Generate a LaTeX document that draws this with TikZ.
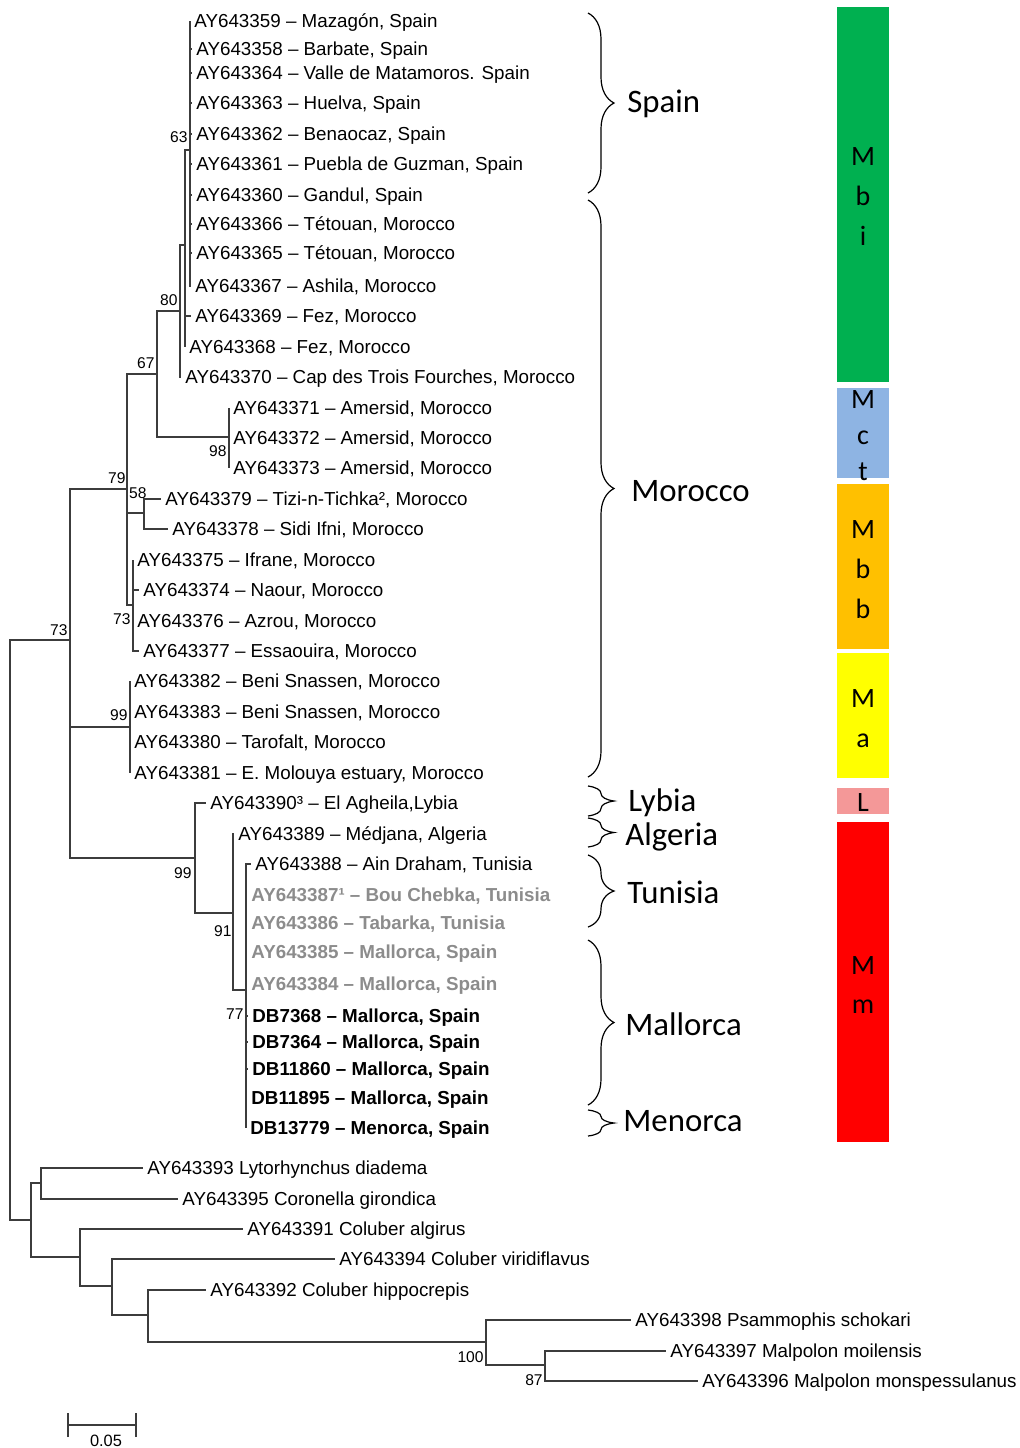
\documentclass[tikz,border=0pt]{standalone}
\usepackage{fontspec}
\setmainfont{Liberation Sans}
\newfontfamily\calibfont{Carlito}
\usetikzlibrary{decorations.pathreplacing}
\definecolor{mbigreen}{RGB}{0,176,80}
\definecolor{mctblue}{RGB}{142,180,227}
\definecolor{mbborange}{RGB}{255,192,0}
\definecolor{mayellow}{RGB}{255,255,0}
\definecolor{lpink}{RGB}{244,152,152}
\definecolor{mmred}{RGB}{255,0,0}
\definecolor{taxgray}{RGB}{140,140,140}
\definecolor{branchcol}{RGB}{60,60,60}
\tikzset{
  branch/.style={draw=branchcol, line width=0.75pt},
  leaf/.style={anchor=west, inner xsep=2pt, inner ysep=0pt, text height=6.7pt, text depth=0pt,
    font=\fontsize{9.4}{11}\selectfont},
  leafgray/.style={leaf, text=taxgray, font=\fontsize{9.4}{11}\selectfont\bfseries},
  leafbold/.style={leaf, font=\fontsize{9.4}{11}\selectfont\bfseries},
  boot/.style={anchor=east, inner sep=0pt, text height=5.6pt, text depth=0pt,
    font=\fontsize{7.8}{9}\selectfont},
  cladebrace/.style={draw=black, line width=0.6pt, decorate, decoration={brace, amplitude=13pt}},
  cladename/.style={anchor=west, inner sep=0pt, text height=10.5pt, text depth=0pt,
    font=\calibfont\fontsize{16.4}{19}\selectfont},
  barletter/.style={anchor=base, inner sep=0pt, font=\calibfont\fontsize{14}{16}\selectfont},
}
\begin{document}
\begin{tikzpicture}[x=0.5pt, y=-0.5pt]
\useasboundingbox (0,0) rectangle (1020,1448);

% ---------- internal nodes of the tree ----------
\coordinate (root) at (10,930);
\coordinate (n73) at (70,640);
\coordinate (nx) at (70,792);
\coordinate (n79) at (127,489);
\coordinate (n67) at (157,374);
\coordinate (n80) at (180,311);
\coordinate (nb) at (185,245);
\coordinate (n63) at (190,150);
\coordinate (n98) at (229,437);
\coordinate (n58) at (144,513);
\coordinate (nmbb) at (133,605);
\coordinate (nma) at (130,727);
\coordinate (ne) at (195,858);
\coordinate (n91) at (233,913);
\coordinate (n77) at (246,990);
\coordinate (nout) at (31,1220);
\coordinate (nly) at (41,1183);
\coordinate (nc1) at (80,1257);
\coordinate (nc2) at (112,1286);
\coordinate (nc3) at (148,1315);
\coordinate (n100) at (486,1342);
\coordinate (n87) at (545,1365);

% ---------- terminal taxa ----------
\node[leaf] (l1) at (190,21) {AY643359 – Mazagón, Spain};
\node[leaf] (l2) at (192,49) {AY643358 – Barbate, Spain};
\node[leaf] (l3) at (192,73) {AY643364 – Valle de Matamoros. Spain};
\node[leaf] (l4) at (192,103) {AY643363 – Huelva, Spain};
\node[leaf] (l5) at (192,134) {AY643362 – Benaocaz, Spain};
\node[leaf] (l6) at (192,164) {AY643361 – Puebla de Guzman, Spain};
\node[leaf] (l7) at (192,195) {AY643360 – Gandul, Spain};
\node[leaf] (l8) at (192,224) {AY643366 – Tétouan, Morocco};
\node[leaf] (l9) at (192,253) {AY643365 – Tétouan, Morocco};
\node[leaf] (l10) at (191,286) {AY643367 – Ashila, Morocco};
\node[leaf] (l11) at (191,316) {AY643369 – Fez, Morocco};
\node[leaf] (l12) at (185,347) {AY643368 – Fez, Morocco};
\node[leaf] (l13) at (181,377) {AY643370 – Cap des Trois Fourches, Morocco};
\node[leaf] (l14) at (229,408) {AY643371 – Amersid, Morocco};
\node[leaf] (l15) at (229,438) {AY643372 – Amersid, Morocco};
\node[leaf] (l16) at (229,468) {AY643373 – Amersid, Morocco};
\node[leaf] (l17) at (161,499) {AY643379 – Tizi-n-Tichka², Morocco};
\node[leaf] (l18) at (168,529) {AY643378 – Sidi Ifni, Morocco};
\node[leaf] (l19) at (133,560) {AY643375 – Ifrane, Morocco};
\node[leaf] (l20) at (139,590) {AY643374 – Naour, Morocco};
\node[leaf] (l21) at (133,621) {AY643376 – Azrou, Morocco};
\node[leaf] (l22) at (139,651) {AY643377 – Essaouira, Morocco};
\node[leaf] (l23) at (130,681) {AY643382 – Beni Snassen, Morocco};
\node[leaf] (l24) at (130,712) {AY643383 – Beni Snassen, Morocco};
\node[leaf] (l25) at (130,742) {AY643380 – Tarofalt, Morocco};
\node[leaf] (l26) at (130,773) {AY643381 – E. Molouya estuary, Morocco};
\node[leaf] (l27) at (206,803) {AY643390³ – El Agheila,Lybia};
\node[leaf] (l28) at (234,834) {AY643389 – Médjana, Algeria};
\node[leaf] (l29) at (251,864) {AY643388 – Ain Draham, Tunisia};
\node[leafgray] (l30) at (247,895) {AY643387¹ – Bou Chebka, Tunisia};
\node[leafgray] (l31) at (247,923) {AY643386 – Tabarka, Tunisia};
\node[leafgray] (l32) at (247,952) {AY643385 – Mallorca, Spain};
\node[leafgray] (l33) at (247,984) {AY643384 – Mallorca, Spain};
\node[leafbold] (l34) at (248,1016) {DB7368 – Mallorca, Spain};
\node[leafbold] (l35) at (248,1042) {DB7364 – Mallorca, Spain};
\node[leafbold] (l36) at (248,1069) {DB11860 – Mallorca, Spain};
\node[leafbold] (l37) at (247,1098) {DB11895 – Mallorca, Spain};
\node[leafbold] (l38) at (246,1128) {DB13779 – Menorca, Spain};
\node[leaf] (l39) at (143,1168) {AY643393 Lytorhynchus diadema};
\node[leaf] (l40) at (178,1199) {AY643395 Coronella girondica};
\node[leaf] (l41) at (243,1229) {AY643391 Coluber algirus};
\node[leaf] (l42) at (335,1259) {AY643394 Coluber viridiflavus};
\node[leaf] (l43) at (206,1290) {AY643392 Coluber hippocrepis};
\node[leaf] (l44) at (631,1320) {AY643398 Psammophis schokari};
\node[leaf] (l45) at (666,1351) {AY643397 Malpolon moilensis};
\node[leaf] (l46) at (698,1381) {AY643396 Malpolon monspessulanus};

% ---------- branches ----------
\draw[branch] (root) |- (n73) (root) |- (nout);
\draw[branch] (n73) |- (n79) (n73) -- (nx);
\draw[branch] (nx) |- (nma) (nx) |- (ne);
\draw[branch] (n79) |- (n67) (n79) |- (n58) (n79) |- (nmbb);
\draw[branch] (n67) |- (n80) (n67) |- (n98);
\draw[branch] (n80) |- (nb) (n80) |- (l13.west);
\draw[branch] (nb) |- (n63) (nb) |- (l11.west) (nb) |- (l12.west);
\foreach \k in {1,...,10} \draw[branch] (n63) |- (l\k.west);
\foreach \k in {14,15,16} \draw[branch] (n98) |- (l\k.west);
\foreach \k in {17,18} \draw[branch] (n58) |- (l\k.west);
\foreach \k in {19,...,22} \draw[branch] (nmbb) |- (l\k.west);
\foreach \k in {23,...,26} \draw[branch] (nma) |- (l\k.west);
\draw[branch] (ne) |- (l27.west) (ne) |- (n91);
\draw[branch] (n91) |- (l28.west) (n91) |- (n77);
\foreach \k in {29,...,38} \draw[branch] (n77) |- (l\k.west);
\draw[branch] (nout) |- (nly) (nout) |- (nc1);
\draw[branch] (nly) |- (l39.west) (nly) |- (l40.west);
\draw[branch] (nc1) |- (l41.west) (nc1) |- (nc2);
\draw[branch] (nc2) |- (l42.west) (nc2) |- (nc3);
\draw[branch] (nc3) |- (l43.west) (nc3) |- (n100);
\draw[branch] (n100) |- (l44.west) (n100) |- (n87);
\draw[branch] (n87) |- (l45.west) (n87) |- (l46.west);

% ---------- bootstrap values ----------
\node[boot] (b63) at (188,137) {63};
\node[boot] (b80) at (178,300) {80};
\node[boot] (b67) at (155,363) {67};
\node[boot] (b98) at (227,451) {98};
\node[boot] (b79) at (126,478) {79};
\node[boot] (b58) at (147,493) {58};
\node[boot] (b73a) at (131,619) {73};
\node[boot] (b73b) at (68,630) {73};
\node[boot] (b99a) at (128,715) {99};
\node[boot] (b99b) at (192,873) {99};
\node[boot] (b91) at (232,931) {91};
\node[boot] (b77) at (244,1014) {77};
\node[boot] (b100) at (484,1357) {100};
\node[boot] (b87) at (543,1380) {87};

% ---------- scale bar ----------
\coordinate (sbl) at (68,1425);
\coordinate (sbr) at (136,1425);
\draw[branch] (sbl) -- (sbr);
\draw[branch] ([yshift=-6]sbl) -- ([yshift=6]sbl);
\draw[branch] ([yshift=-6]sbr) -- ([yshift=6]sbr);
\node[boot, anchor=center, font=\fontsize{8.2}{10}\selectfont] (sblabel) at (106,1441) {0.05};

% ---------- geographic braces ----------
\draw[cladebrace] (588,13) -- (588,193);
\node[cladename] (gspain) at (627,102) {Spain};
\draw[cladebrace] (588,200) -- (588,777);
\node[cladename] (gmorocco) at (631,491) {Morocco};
\draw[cladebrace] (588,786) -- (588,816);
\node[cladename] (glybia) at (628,801) {Lybia};
\draw[cladebrace] (588,818) -- (588,847);
\node[cladename] (galgeria) at (625,835) {Algeria};
\draw[cladebrace] (588,855) -- (588,927);
\node[cladename] (gtunisia) at (627,893) {Tunisia};
\draw[cladebrace] (588,940) -- (588,1105);
\node[cladename] (gmallorca) at (625,1025) {Mallorca};
\draw[cladebrace] (588,1110) -- (588,1136);
\node[cladename] (gmenorca) at (623,1121) {Menorca};

% ---------- lineage bar ----------
\fill[mbigreen] (837,7) rectangle (889,382);
\fill[mctblue] (837,388) rectangle (889,478);
\fill[mbborange] (837,484) rectangle (889,649);
\fill[mayellow] (837,653) rectangle (889,778);
\fill[lpink] (837,788) rectangle (889,814);
\fill[mmred] (837,822) rectangle (889,1142);

\node[barletter] (mbi1) at (863,165) {M};
\node[barletter] (mbi2) at (863,205) {b};
\node[barletter] (mbi3) at (863,245) {i};
\node[barletter] (mct1) at (863,408) {M};
\node[barletter] (mct2) at (863,444) {c};
\node[barletter] (mct3) at (863,480) {t};
\node[barletter] (mbb1) at (863,538) {M};
\node[barletter] (mbb2) at (863,578) {b};
\node[barletter] (mbb3) at (863,618) {b};
\node[barletter] (ma1) at (863,707) {M};
\node[barletter] (ma2) at (863,747) {a};
\node[barletter] (ll1) at (863,811) {L};
\node[barletter] (mm1) at (863,974) {M};
\node[barletter] (mm2) at (863,1013) {m};
\end{tikzpicture}
\end{document}
